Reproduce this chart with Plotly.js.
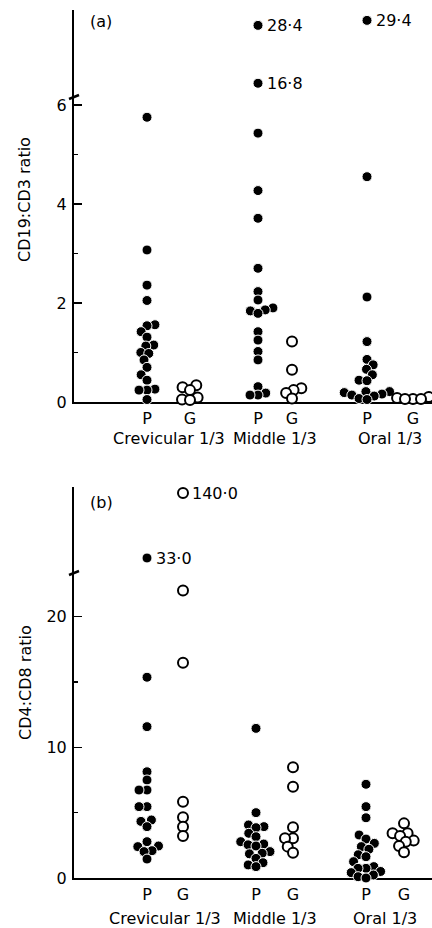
<!DOCTYPE html>
<html><head><meta charset="utf-8">
<script src="https://cdn.plot.ly/plotly-3.0.1.min.js"></script>
<style>html,body{margin:0;padding:0;background:#fff}#chart{width:432px;height:928px}</style>
</head><body><div id="chart"></div>
<script>
// ---------------- Data ----------------
const groups = ["Crevicular 1/3", "Middle 1/3", "Oral 1/3"];
const tissues = ["P", "G"];
const panelLabels = ["(a)", "(b)"];
const yTitles = ["CD19:CD3 ratio", "CD4:CD8 ratio"];

// (a) CD19:CD3 ratio
const cd19_crevicular_P = [5.75, 3.07, 2.36, 2.05, 1.56, 1.54, 1.42, 1.31, 1.15, 1.13, 1.00, 0.98, 0.85, 0.70, 0.55, 0.44, 0.26, 0.24, 0.24, 0.05];
const cd19_crevicular_G = [0.34, 0.30, 0.24, 0.09, 0.05, 0.04];
const cd19_middle_P = [28.4, 16.8, 5.43, 4.27, 3.71, 2.70, 2.23, 2.06, 1.90, 1.86, 1.84, 1.79, 1.42, 1.25, 1.02, 0.85, 0.31, 0.18, 0.14, 0.14];
const cd19_middle_G = [1.22, 0.65, 0.28, 0.24, 0.18, 0.07];
const cd19_oral_P = [29.4, 4.55, 2.12, 1.22, 0.86, 0.75, 0.66, 0.55, 0.44, 0.43, 0.21, 0.21, 0.19, 0.16, 0.14, 0.12, 0.07, 0.05];
const cd19_oral_G = [0.12, 0.10, 0.08, 0.06, 0.06, 0.06];

// (b) CD4:CD8 ratio
const cd4_crevicular_P = [33.0, 15.36, 11.58, 8.13, 7.5, 6.73, 6.73, 5.46, 5.46, 4.44, 4.33, 3.93, 2.78, 2.45, 2.40, 2.09, 2.02, 1.45];
const cd4_crevicular_G = [140.0, 22.0, 16.47, 5.84, 4.64, 3.93, 3.21];
const cd4_middle_P = [11.45, 5.0, 4.06, 3.93, 3.85, 3.42, 3.16, 2.78, 2.6, 2.54, 2.45, 2.02, 1.89, 1.85, 1.5, 1.17, 1.0, 0.87];
const cd4_middle_G = [8.47, 6.99, 3.88, 3.04, 3.04, 2.4, 1.94];
const cd4_oral_P = [7.17, 5.46, 4.61, 3.29, 2.98, 2.65, 2.4, 2.2, 1.78, 1.63, 1.25, 0.87, 0.74, 0.74, 0.5, 0.41, 0.23, 0.1, 0.0];
const cd4_oral_G = [4.18, 3.42, 3.42, 3.21, 2.86, 2.78, 2.45, 1.97];

// axis breaks (values above are drawn on the compressed upper segment)
const breakA = 6.2;
const breakB = 23.49;

// ---------------- Layout geometry ----------------
const W = 432, H = 928;
const fy = px => 1 - px / H;
const xLeftPx = 74;
const xSpan = W - xLeftPx;           // 1 x-unit == 1 px
const font = "DejaVu Sans, Liberation Sans, Arial, sans-serif";
const fs = 16;

const panels = [
  {
    data: [[cd19_crevicular_P, cd19_crevicular_G], [cd19_middle_P, cd19_middle_G], [cd19_oral_P, cd19_oral_G]],
    centers: [73, 116, 184, 218, 293, 339],
    brk: breakA,
    mainPx: [402, 95], upPx: [95, 10], upRange: [14.45, 31.48],
    dtick: 2, minor: 1,
    xa: "x", ya: "y", yu: "y2",
    groupLabelPx: 438, panelLabelPx: 22, titlePx: 200
  },
  {
    data: [[cd4_crevicular_P, cd4_crevicular_G], [cd4_middle_P, cd4_middle_G], [cd4_oral_P, cd4_oral_G]],
    centers: [73, 109, 182, 219, 292, 330],
    brk: breakB,
    mainPx: [878, 571], upPx: [571, 487], upRange: [11.6, 149.9],
    dtick: 10, minor: 5,
    xa: "x2", ya: "y3", yu: "y4",
    groupLabelPx: 918, panelLabelPx: 502, titlePx: 683
  }
];

// simple beeswarm (pixel space) so overlapping dots spread sideways
function swarm(vals, pxPerY, D) {
  const idx = vals.map((v, i) => i).sort((a, b) => vals[a] - vals[b]);
  const placed = [];
  const off = new Array(vals.length).fill(0);
  for (const i of idx) {
    const y = vals[i] * pxPerY;
    const cands = [0];
    for (const p of placed) {
      const dy = Math.abs(p.y - y);
      if (dy < D) { const dx = Math.sqrt(D * D - dy * dy); cands.push(p.x + dx, p.x - dx); }
    }
    cands.sort((a, b) => Math.abs(a) - Math.abs(b) || a - b);
    let chosen = 0;
    for (const c of cands) {
      if (placed.every(p => Math.hypot(p.x - c, p.y - y) >= D - 1e-6)) { chosen = c; break; }
    }
    placed.push({ x: chosen, y: y });
    off[i] = chosen;
  }
  return off;
}

const markerP = { symbol: "circle", size: 10, color: "black", line: { color: "white", width: 1 } };
const markerG = { symbol: "circle", size: 10, color: "white", line: { color: "black", width: 2 } };

const traces = [];
const annotations = [];
const shapes = [];
const layout = {
  width: W, height: H, margin: { l: 0, r: 0, t: 0, b: 0 },
  showlegend: false, paper_bgcolor: "white", plot_bgcolor: "rgba(0,0,0,0)",
  font: { family: font, size: fs, color: "black" },
  annotations: annotations, shapes: shapes
};

panels.forEach((pn, pi) => {
  const mainRange = [0, pn.brk];
  const pxPerY = (pn.mainPx[0] - pn.mainPx[1]) / pn.brk;
  const pxPerYUp = (pn.upPx[0] - pn.upPx[1]) / (pn.upRange[1] - pn.upRange[0]);
  const xName = pi === 0 ? "xaxis" : "xaxis2";
  const yName = pi === 0 ? "yaxis" : "yaxis3";
  const yuName = pi === 0 ? "yaxis2" : "yaxis4";

  layout[xName] = {
    domain: [xLeftPx / W, 1], range: [0, xSpan], anchor: pn.ya,
    showline: true, linewidth: 2, linecolor: "black", layer: "below traces",
    ticks: "", tickmode: "array", tickvals: pn.centers,
    ticktext: groups.flatMap(() => tissues), ticklabelstandoff: 1,
    showgrid: false, zeroline: false, tickfont: { size: fs }
  };
  layout[yName] = {
    domain: [fy(pn.mainPx[0]), fy(pn.mainPx[1])], range: mainRange, anchor: pn.xa,
    showline: true, linewidth: 2, linecolor: "black", layer: "below traces",
    tickmode: "linear", tick0: 0, dtick: pn.dtick,
    ticks: "inside", ticklen: 8, tickwidth: 1.5, tickcolor: "black",
    minor: { dtick: pn.minor, ticks: "inside", ticklen: 4, tickwidth: 1.5, tickcolor: "black", showgrid: false },
    showgrid: false, zeroline: false, tickfont: { size: fs }, ticklabelstandoff: 2
  };
  layout[yuName] = {
    domain: [fy(pn.upPx[0]), fy(pn.upPx[1])], range: pn.upRange, anchor: pn.xa,
    showline: true, linewidth: 2, linecolor: "black", layer: "below traces",
    ticks: "", showticklabels: false, showgrid: false, zeroline: false
  };

  pn.data.forEach((pair, gi) => {
    pair.forEach((vals, ti) => {
      const center = pn.centers[gi * 2 + ti];
      const main = vals.filter(v => v <= pn.brk);
      const up = vals.filter(v => v > pn.brk);
      const offM = swarm(main, pxPerY, 8);
      const offU = swarm(up, pxPerYUp, 8);
      const marker = ti === 0 ? markerP : markerG;
      traces.push({
        type: "scatter", mode: "markers", xaxis: pn.xa, yaxis: pn.ya,
        x: main.map((v, i) => center + offM[i]), y: main,
        marker: marker, cliponaxis: false, hoverinfo: "y",
        name: groups[gi] + " " + tissues[ti]
      });
      if (up.length) {
        traces.push({
          type: "scatter", mode: "markers", xaxis: pn.xa, yaxis: pn.yu,
          x: up.map((v, i) => center + offU[i]), y: up,
          marker: marker, cliponaxis: false, hoverinfo: "y",
          name: groups[gi] + " " + tissues[ti] + " (off scale)"
        });
        up.forEach((v, i) => {
          annotations.push({
            xref: pn.xa, yref: pn.yu, x: center + offU[i], y: v,
            text: v.toFixed(1).replace(".", "\u00B7"), showarrow: false,
            xanchor: "left", yanchor: "middle", xshift: 7,
            font: { size: fs, family: font, color: "black" }
          });
        });
      }
    });
    // group label under P/G
    annotations.push({
      xref: pn.xa, yref: "paper",
      x: (pn.centers[gi * 2] + pn.centers[gi * 2 + 1]) / 2, y: fy(pn.groupLabelPx),
      text: groups[gi], showarrow: false, xanchor: "center", yanchor: "middle",
      font: { size: fs, family: font, color: "black" }
    });
  });

  // panel label
  annotations.push({
    xref: "paper", yref: "paper", x: 101 / W, y: fy(pn.panelLabelPx),
    text: panelLabels[pi], showarrow: false, xanchor: "center", yanchor: "middle",
    font: { size: fs, family: font, color: "black" }
  });
  // y title
  annotations.push({
    xref: "paper", yref: "paper", x: 25 / W, y: fy(pn.titlePx),
    text: yTitles[pi], showarrow: false, textangle: -90,
    xanchor: "center", yanchor: "middle",
    font: { size: fs, family: font, color: "black" }
  });
  // axis break mark
  const b = pn.mainPx[1];
  shapes.push({
    type: "line", xref: "paper", yref: "paper",
    x0: (xLeftPx - 5) / W, y0: fy(b + 4), x1: (xLeftPx + 5) / W, y1: fy(b),
    line: { color: "black", width: 2.5 }
  });
});

Plotly.newPlot("chart", traces, layout, { displayModeBar: false, staticPlot: true });
</script>
</body></html>
